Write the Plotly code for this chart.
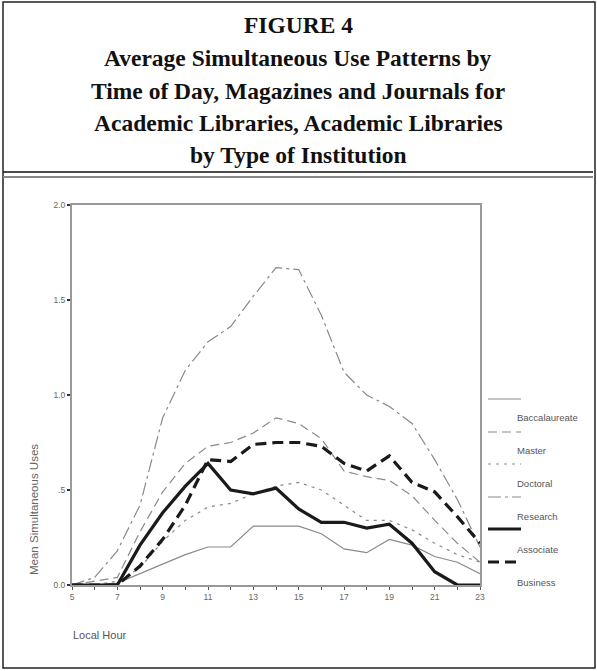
import plotly.graph_objects as go

hours = list(range(5, 24))
baccalaureate = [0, 0, 0.01, 0.06, 0.11, 0.16, 0.20, 0.20, 0.31, 0.31, 0.31, 0.27, 0.19, 0.17, 0.24, 0.21, 0.15, 0.12, 0.06]
master =        [0, 0.02, 0.04, 0.28, 0.49, 0.64, 0.73, 0.75, 0.80, 0.88, 0.85, 0.77, 0.60, 0.57, 0.55, 0.47, 0.34, 0.22, 0.12]
doctoral =      [0, 0, 0.02, 0.09, 0.23, 0.34, 0.41, 0.43, 0.48, 0.52, 0.54, 0.50, 0.42, 0.34, 0.34, 0.29, 0.22, 0.16, 0.12]
research =      [0, 0.04, 0.18, 0.42, 0.88, 1.13, 1.28, 1.36, 1.52, 1.67, 1.66, 1.42, 1.12, 1.00, 0.94, 0.85, 0.66, 0.45, 0.20]
associate =     [0, 0, 0, 0.21, 0.38, 0.52, 0.64, 0.50, 0.48, 0.51, 0.40, 0.33, 0.33, 0.30, 0.32, 0.22, 0.07, 0, 0]
business =      [0, 0, 0, 0.10, 0.24, 0.42, 0.66, 0.65, 0.74, 0.75, 0.75, 0.73, 0.64, 0.60, 0.68, 0.54, 0.49, 0.36, 0.22]

series_names = ["Baccalaureate", "Master", "Doctoral", "Research", "Associate", "Business"]
series_values = [baccalaureate, master, doctoral, research, associate, business]
series_styles = [
    dict(color="#8a8a8a", width=1.2, dash="solid"),
    dict(color="#8a8a8a", width=1.2, dash="9px,5px"),
    dict(color="#8a8a8a", width=1.2, dash="3px,5px"),
    dict(color="#8a8a8a", width=1.2, dash="13px,4px,3px,4px"),
    dict(color="#1a1a1a", width=3.2, dash="solid"),
    dict(color="#1a1a1a", width=3.2, dash="11px,6px"),
]

x_tickvals = [5, 7, 9, 11, 13, 15, 17, 19, 21, 23]
x_ticktext = ["5", "7", "9", "11", "13", "15", "17", "19", "21", "23"]
y_tickvals = [0, 0.5, 1.0, 1.5, 2.0]
y_ticktext = ["0.0", ".5", "1.0", "1.5", "2.0"]

title_lines = [
    "FIGURE 4",
    "Average Simultaneous Use Patterns by",
    "Time of Day, Magazines and Journals for",
    "Academic Libraries, Academic Libraries",
    "by Type of Institution",
]

W, H = 597, 671
L, R, T, B = 72, 480, 205, 585


def px(x):
    return (x - L) / (R - L)


def py(y):
    return (B - y) / (B - T)


fig = go.Figure()
for name, vals, st in zip(series_names, series_values, series_styles):
    fig.add_trace(go.Scatter(x=hours, y=vals, mode="lines", name=name,
                             line=st, showlegend=False))

shapes = []
# outer frame
shapes.append(dict(type="rect", xref="paper", yref="paper",
                   x0=px(3), x1=px(595), y0=py(668), y1=py(2),
                   line=dict(color="#222", width=1.5)))
# double rule under title
shapes.append(dict(type="line", xref="paper", yref="paper",
                   x0=px(3), x1=px(593), y0=py(172), y1=py(172),
                   line=dict(color="#111", width=1.3)))
shapes.append(dict(type="line", xref="paper", yref="paper",
                   x0=px(3), x1=px(593), y0=py(177), y1=py(177),
                   line=dict(color="#888", width=2)))

annotations = []
title_y = [25, 58, 91, 123, 155]
for txt, yy in zip(title_lines, title_y):
    annotations.append(dict(text="<b>%s</b>" % txt, xref="paper", yref="paper",
                            x=px(298), y=py(yy), showarrow=False,
                            xanchor="center", yanchor="middle",
                            font=dict(family="Liberation Serif", size=23.5, color="#111")))

# legend (sample line above, label below)
leg_line_y = [399, 432, 464, 497, 529, 562]
leg_text_y = [417, 450, 483, 516, 549, 582]
for name, st, ly, ty in zip(series_names, series_styles, leg_line_y, leg_text_y):
    shapes.append(dict(type="line", xref="paper", yref="paper",
                       x0=px(488), x1=px(521), y0=py(ly), y1=py(ly),
                       line=st))
    annotations.append(dict(text=name, xref="paper", yref="paper",
                            x=px(515), y=py(ty), showarrow=False,
                            xanchor="left", yanchor="middle",
                            font=dict(family="Liberation Sans", size=9.5, color="#555")))

annotations.append(dict(text="Mean Simultaneous Uses", xref="paper", yref="paper",
                        x=px(34), y=py(510), showarrow=False, textangle=-90,
                        xanchor="center", yanchor="middle",
                        font=dict(family="Liberation Sans", size=11.5, color="#666")))
annotations.append(dict(text="Local Hour", xref="paper", yref="paper",
                        x=px(71), y=py(635), showarrow=False,
                        xanchor="left", yanchor="middle",
                        font=dict(family="Liberation Sans", size=11, color="#555")))

fig.update_layout(
    width=W, height=H,
    margin=dict(l=L, r=W - R, t=T, b=H - B, pad=0),
    paper_bgcolor="white", plot_bgcolor="white",
    shapes=shapes, annotations=annotations,
    showlegend=False,
)
fig.update_xaxes(range=[5, 23], tickvals=x_tickvals, ticktext=x_ticktext,
                 showgrid=False, zeroline=False, showline=True, mirror=True,
                 linecolor="#999", linewidth=2, ticks="outside", ticklen=3,
                 tickcolor="#555", tickwidth=1,
                 minor=dict(dtick=1, ticks="outside", ticklen=3, tickcolor="#555"),
                 tickfont=dict(family="Liberation Sans", size=8.5, color="#666"))
fig.update_yaxes(range=[0, 2.0], tickvals=y_tickvals, ticktext=y_ticktext,
                 showgrid=False, zeroline=False, showline=True, mirror=True,
                 linecolor="#999", linewidth=2, ticks="outside", ticklen=3,
                 tickcolor="#333", tickwidth=2,
                 tickfont=dict(family="Liberation Sans", size=8.5, color="#666"))

fig.write_html("out.html", config={"displayModeBar": False},
               post_script="document.body.style.margin='0';")
